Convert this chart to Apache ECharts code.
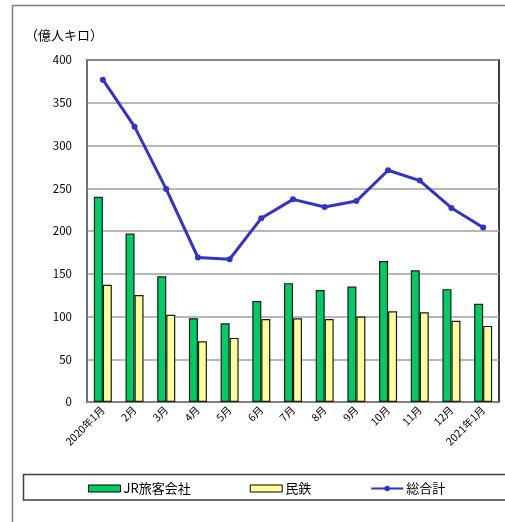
<!DOCTYPE html>
<html><head><meta charset="utf-8">
<script src="https://cdn.jsdelivr.net/npm/echarts@6/dist/echarts.min.js"></script>
<style>html,body{margin:0;padding:0;background:#fff}#c{width:505px;height:522px}</style>
</head><body><div id="c"></div>
<script>
const categories = ["2020年1月","2月","3月","4月","5月","6月","7月","8月","9月","10月","11月","12月","2021年1月"];
const jrValues = [240,197,147,98,92,118,139,131,135,165,154,132,115];
const privateValues = [137,125,102,71,75,97,98,97,100,106,105,95,89];
const totalValues = [377,322,249,169,167,215,237,228,235,271,259,227,204];
const yTicks = [0,400,50];
const unitLabel = "（億人キロ）";
const seriesNames = ["JR旅客会社","民鉄","総合計"];

const font = '"Noto Sans CJK JP", "Noto Sans", sans-serif';
const chart = echarts.init(document.getElementById('c'), null, {renderer:'canvas'});
chart.setOption({
  animation:false,
  textStyle:{fontFamily:font},
  title:{text:unitLabel,left:20,top:24,textStyle:{fontFamily:font,fontSize:13,fontWeight:'normal',color:'#000'}},
  graphic:[
    {type:'polyline',shape:{points:[[12.5,522],[12.5,5.5],[505,5.5]]},style:{stroke:'#808080',lineWidth:1.5,fill:null}},
    {type:'rect',shape:{x:23.5,y:474.5,width:490,height:25.5},style:{stroke:'#404040',lineWidth:1.5,fill:null}}
  ],
  legend:{
    left:83,top:477,itemWidth:32,itemHeight:7,itemGap:59,
    textStyle:{fontFamily:font,fontSize:13,color:'#000',padding:[0,0,0,-2]},
    data:[
      {name:seriesNames[0],icon:'rect',itemStyle:{borderColor:'#000',borderWidth:1}},
      {name:seriesNames[1],icon:'rect',itemStyle:{borderColor:'#000',borderWidth:1}},
      {name:seriesNames[2]}
    ]
  },
  grid:{left:87,top:60,right:6,bottom:120,show:true,borderColor:'#000',borderWidth:1.5,backgroundColor:'#fff'},
  xAxis:{
    type:'category',data:categories,
    axisLine:{lineStyle:{color:'#808080',width:1.5}},
    axisTick:{show:false},
    axisLabel:{interval:0,rotate:45,fontSize:10.5,color:'#000',fontFamily:font,margin:6}
  },
  yAxis:{
    type:'value',min:yTicks[0],max:yTicks[1],interval:yTicks[2],
    axisLine:{show:true,lineStyle:{color:'#808080',width:1.5}},
    axisTick:{show:false},
    splitLine:{lineStyle:{color:'#a0a0a0',width:1.5}},
    axisLabel:{fontSize:11.5,color:'#000',fontFamily:font,margin:15}
  },
  series:[
    {name:seriesNames[0],type:'bar',data:jrValues,barWidth:9,barGap:'0%',
     itemStyle:{color:'#00cc66',borderColor:'#1a1a1a',borderWidth:1.2}},
    {name:seriesNames[1],type:'bar',data:privateValues,barWidth:9,barGap:'0%',
     itemStyle:{color:'#ffff99',borderColor:'#1a1a1a',borderWidth:1.2}},
    {name:seriesNames[2],type:'line',data:totalValues,symbol:'circle',symbolSize:6,
     lineStyle:{color:'#3333cc',width:3},itemStyle:{color:'#3333cc'},z:5}
  ]
});
</script></body></html>
